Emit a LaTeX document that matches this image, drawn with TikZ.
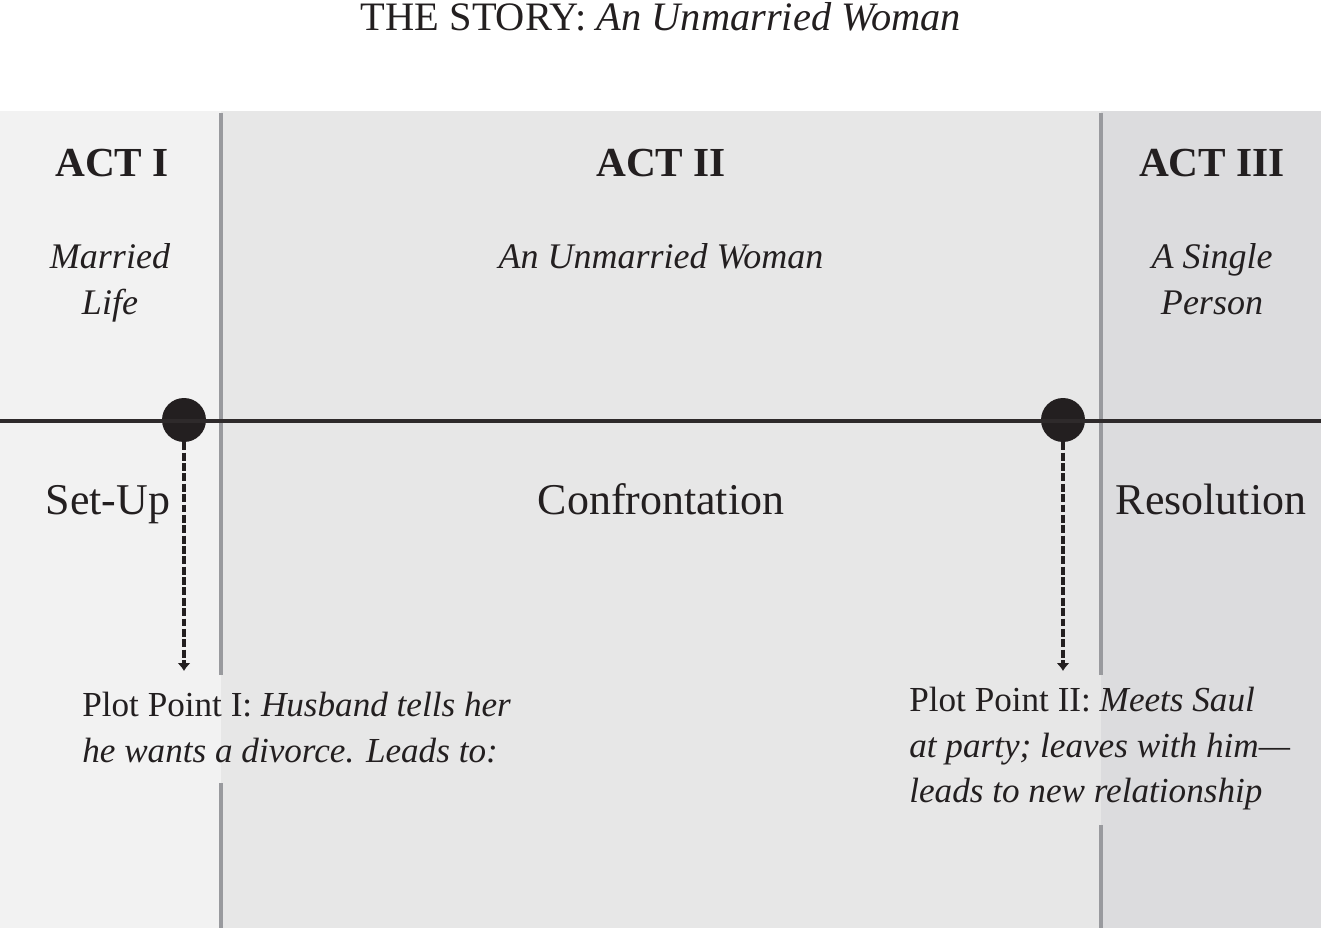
\documentclass[tikz,border=0pt]{standalone}
\usepackage{fontspec}
\setmainfont{Liberation Serif}
\usetikzlibrary{arrows.meta}

\definecolor{actone}{HTML}{F2F2F2}
\definecolor{acttwo}{HTML}{E7E7E7}
\definecolor{actthree}{HTML}{DCDCDE}
\definecolor{divider}{HTML}{999A9E}
\definecolor{story}{HTML}{231F20}

\begin{document}
\begin{tikzpicture}[x=0.02cm,y=-0.02cm,
  every node/.style={text=story, inner sep=0pt},
  acthead/.style={anchor=base, font=\fontsize{23.5}{28}\selectfont\bfseries},
  actname/.style={anchor=north, align=center, font=\fontsize{20.5}{26}\selectfont\itshape},
  actpart/.style={anchor=base, font=\fontsize{25}{29}\selectfont},
  plotdot/.style={circle, fill=story, minimum size=0.88cm},
  plottext/.style={anchor=north west, align=left, font=\fontsize{20}{25.8}\selectfont},
  plotarrow/.style={story, line width=2.1pt, dash pattern=on 4.5pt off 1.4pt,
    -{Latex[length=4.5pt,width=7.5pt]}},
  actline/.style={divider, line width=2.8pt}]
  \useasboundingbox (0,0) rectangle (1321,928);

  % panels
  \fill[actone] (0,111) rectangle (221,928);
  \fill[acttwo] (221,111) rectangle (1101,928);
  \fill[actthree] (1101,111) rectangle (1321,928);
  \draw[actline] (221,113) -- (221,675) (221,783) -- (221,928);
  \draw[actline] (1101,113) -- (1101,675) (1101,825) -- (1101,928);

  \node[anchor=base, font=\fontsize{23}{28}\selectfont] (title) at (661,31)
    {THE STORY: \textit{An Unmarried Woman}};

  \node[acthead] (act1) at (112,177) {ACT I};
  \node[acthead] (act2) at (661,177) {ACT II};
  \node[acthead] (act3) at (1212,177) {ACT III};

  \node[actname] (name1) at (110,243) {Married\\Life};
  \node[actname] (name2) at (661,243) {An Unmarried Woman};
  \node[actname] (name3) at (1212,243) {A Single\\Person};

  \node[actpart] (part1) at (108,515) {Set-Up};
  \node[actpart] (part2) at (661,515) {Confrontation};
  \node[actpart] (part3) at (1211,515) {Resolution};

  \node[plotdot] (pp1) at (184,420) {};
  \node[plotdot] (pp2) at (1063,420) {};
  \coordinate (pp1end) at (184,671);
  \coordinate (pp2end) at (1063,671);
  \draw[plotarrow] (pp1) -- (pp1end);
  \draw[plotarrow] (pp2) -- (pp2end);

  \draw[story!95!white, line width=2pt] (0,421) -- (1321,421);

  \node[plottext] (pp1text) at (82,692)
    {Plot Point I: \textit{Husband tells her}\\\textit{he wants a divorce. Leads to:}};
  \node[plottext] (pp2text) at (909,687)
    {Plot Point II: \textit{Meets Saul}\\\textit{at party; leaves with him---}\\\textit{leads to new relationship}};
\end{tikzpicture}
\end{document}
